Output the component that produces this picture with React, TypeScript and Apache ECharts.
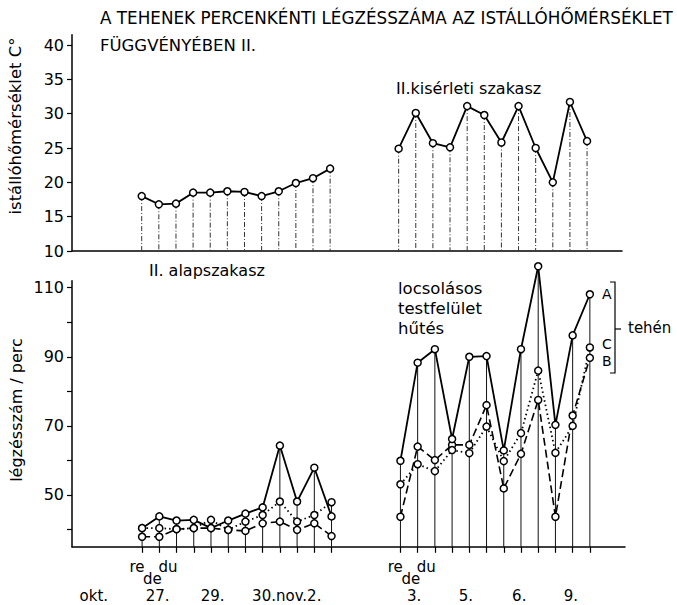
import React, { useEffect, useRef } from "react";
import * as echarts from "echarts";

// ---- data ----
const leftIdx = [0, 1, 2, 3, 4, 5, 6, 7, 8, 9, 10, 11];
const rightIdx = [15, 16, 17, 18, 19, 20, 21, 22, 23, 24, 25, 26];

const tempLeft = [18.0, 16.8, 16.9, 18.5, 18.5, 18.7, 18.6, 18.0, 18.7, 19.9, 20.6, 22.0];
const tempRight = [24.9, 30.1, 25.7, 25.1, 31.1, 29.8, 25.8, 31.1, 25.0, 20.0, 31.7, 26.0];

const cowALeft = [40.4, 43.8, 42.6, 42.8, 40.4, 42.6, 44.6, 46.4, 64.3, 48.1, 57.9, 43.8];
const cowCLeft = [40.4, 40.4, 40.1, 40.4, 42.8, 39.9, 42.3, 44.2, 48.1, 42.3, 44.2, 47.9];
const cowBLeft = [37.9, 37.9, 40.1, 40.4, 40.4, 39.9, 39.6, 41.8, 42.3, 39.9, 41.8, 38.1];

const cowARight = [59.9, 88.3, 92.2, 66.2, 90.0, 90.2, 62.9, 92.2, 116.2, 70.3, 96.2, 108.1];
const cowCRight = [53.1, 58.9, 56.9, 63.0, 62.1, 69.8, 59.8, 67.9, 86.0, 62.2, 70.0, 92.7];
const cowBRight = [43.7, 64.0, 60.1, 64.5, 64.5, 76.0, 51.9, 61.9, 77.5, 43.7, 73.0, 89.7];

const tempTicks = [10, 15, 20, 25, 30, 35, 40];
const breathTicks = [40, 50, 60, 70, 80, 90, 100, 110];
const breathLabels = [50, 70, 90, 110];

const dateLabels = ["okt.", "27.", "29.", "30.nov.2.", "3.", "5.", "6.", "9."];
const dateLabelAt = [-2.8, 0.9, 4.1, 8.4, 15.8, 18.8, 21.9, 24.9];
const dayParts = ["re", "de", "du"];
const dayPartGroups = [0, 15];

const FONT = "'DejaVu Sans', sans-serif";

function pts(idx: number[], vals: number[]) {
  return idx.map((x, i) => [x, vals[i]]);
}

export default function App() {
  const ref = useRef<HTMLDivElement>(null);

  useEffect(() => {
    if (!ref.current) return;
    const chart = echarts.init(ref.current, undefined, { renderer: "svg" });

    const sym = {
      symbol: "circle",
      symbolSize: 7,
      itemStyle: { color: "#fff", borderColor: "#000", borderWidth: 1.5 },
    };

    const lineSeries = (
      name: string,
      grid: number,
      data: any[],
      ltype: any,
      width: number,
      endLabel?: string,
      labelOffset: number[] = [0, 0]
    ) => {
      const d = data.map((p, i) =>
        endLabel && i === data.length - 1
          ? {
              value: p,
              label: {
                show: true,
                position: "right",
                distance: 8,
                offset: labelOffset,
                formatter: endLabel,
                fontFamily: FONT,
                fontSize: 14,
                color: "#000",
              },
            }
          : p
      );
      return {
        name,
        type: "line",
        xAxisIndex: grid,
        yAxisIndex: grid,
        data: d,
        ...sym,
        clip: false,
        z: 3,
        lineStyle: { color: "#000", width, type: ltype },
      };
    };

    const dropData = (grid: number) => {
      if (grid === 0) {
        return [...pts(leftIdx, tempLeft), ...pts(rightIdx, tempRight)];
      }
      const l = leftIdx.map((x, i) => [x, Math.max(cowALeft[i], cowBLeft[i], cowCLeft[i])]);
      const r = rightIdx.map((x, i) => [x, Math.max(cowARight[i], cowBRight[i], cowCRight[i])]);
      return [...l, ...r];
    };

    const dropSeries = (grid: number, yMin: number, dash: any) => ({
      type: "custom",
      xAxisIndex: grid,
      yAxisIndex: grid,
      clip: false,
      z: 1,
      silent: true,
      data: dropData(grid),
      renderItem: (params: any, api: any) => {
        const x = api.value(0);
        const y = api.value(1);
        const p = api.coord([x, y]);
        const b = api.coord([x, yMin]);
        return {
          type: "line",
          shape: { x1: p[0], y1: p[1], x2: b[0], y2: b[1] },
          style: { stroke: grid === 0 ? "#333" : "#111", lineWidth: 1, lineDash: dash },
        };
      },
    });

    const xMin = -4.07;
    const xMax = 28.04;

    const axisText = { color: "#000", fontFamily: FONT, fontSize: 16 };

    const option: any = {
      animation: false,
      backgroundColor: "#fff",
      grid: [
        { left: 72, right: 55, top: 34.7, height: 216.3 },
        { left: 72, right: 52, top: 280.8, height: 266 },
      ],
      xAxis: [
        {
          gridIndex: 0,
          type: "value",
          min: xMin,
          max: xMax,
          axisLine: { show: true, onZero: false, lineStyle: { color: "#000", width: 1.5 } },
          axisTick: { show: false },
          axisLabel: { show: false },
          splitLine: { show: false },
        },
        {
          gridIndex: 1,
          type: "value",
          min: xMin,
          max: xMax,
          axisLine: { show: true, onZero: false, lineStyle: { color: "#000", width: 1.5 } },
          axisTick: {
            show: true,
            customValues: [...leftIdx, ...rightIdx],
            length: 6,
            lineStyle: { color: "#000", width: 1.2 },
          },
          axisLabel: { show: false },
          splitLine: { show: false },
        },
      ],
      yAxis: [
        {
          gridIndex: 0,
          type: "value",
          min: 10,
          max: 41.5,
          axisLine: { show: true, onZero: false, lineStyle: { color: "#000", width: 1.5 } },
          axisTick: { show: true, customValues: tempTicks, length: 5, lineStyle: { color: "#000", width: 1.2 } },
          axisLabel: { customValues: tempTicks, margin: 8, ...axisText },
          splitLine: { show: false },
        },
        {
          gridIndex: 1,
          type: "value",
          min: 35,
          max: 112,
          axisLine: { show: true, onZero: false, lineStyle: { color: "#000", width: 1.5 } },
          axisTick: { show: true, customValues: breathTicks, length: 5, lineStyle: { color: "#000", width: 1.2 } },
          axisLabel: { customValues: breathLabels, margin: 8, ...axisText },
          splitLine: { show: false },
        },
      ],
      series: [
        dropSeries(0, 10, [5, 2, 1, 2]),
        dropSeries(1, 35, null),
        lineSeries("temp-l", 0, pts(leftIdx, tempLeft), "solid", 1.8),
        lineSeries("temp-r", 0, pts(rightIdx, tempRight), "solid", 1.8),
        lineSeries("B-l", 1, pts(leftIdx, cowBLeft), [8, 4], 1.6),
        lineSeries("B-r", 1, pts(rightIdx, cowBRight), [8, 4], 1.6, "B", [0, 3]),
        lineSeries("C-l", 1, pts(leftIdx, cowCLeft), [1.5, 3], 1.8),
        lineSeries("C-r", 1, pts(rightIdx, cowCRight), [1.5, 3], 1.8, "C", [0, -3]),
        lineSeries("A-l", 1, pts(leftIdx, cowALeft), "solid", 1.8),
        lineSeries("A-r", 1, pts(rightIdx, cowARight), "solid", 1.8, "A"),
      ],
    };

    chart.setOption(option);

    const txt = (text: string, x: number, y: number, size: number, extra: any = {}) => ({
      type: "text",
      x,
      y,
      ...(extra.rotation ? { rotation: extra.rotation } : {}),
      style: {
        text,
        fill: "#000",
        fontFamily: FONT,
        fontSize: size,
        align: extra.align || "left",
        verticalAlign: "middle",
        fontWeight: extra.weight || "normal",
      },
    });

    const px = (v: number) => chart.convertToPixel({ xAxisIndex: 1 } as any, v) as number;

    const graphics: any[] = [
      txt("A TEHENEK PERCENKÉNTI LÉGZÉSSZÁMA AZ ISTÁLLÓHŐMÉRSÉKLET", 100, 18, 16.8),
      txt("FÜGGVÉNYÉBEN II.", 100, 45, 16.5),
      txt("II.kisérleti szakasz", 396, 88, 16),
      txt("II. alapszakasz", 149, 270, 16),
      txt("locsolásos", 398, 288, 16.5),
      txt("testfelület", 398, 308, 16.5),
      txt("hűtés", 398, 328, 16.5),
      txt("istállóhőmérséklet C°", 15, 126, 16.5, { rotation: Math.PI / 2, align: "center" }),
      txt("légzésszám / perc", 16, 410, 16, { rotation: Math.PI / 2, align: "center" }),
      txt("tehén", 628, 328, 15),
      {
        type: "polyline",
        shape: { points: [[610, 282], [615, 282], [615, 373], [610, 373]] },
        style: { stroke: "#000", lineWidth: 1.2, fill: null },
      },
      {
        type: "line",
        shape: { x1: 615, y1: 329, x2: 621, y2: 329 },
        style: { stroke: "#000", lineWidth: 1.2 },
      },
    ];

    dateLabels.forEach((t, i) => {
      graphics.push(txt(t, px(dateLabelAt[i]), 596, 15, { align: "center" }));
    });
    const partOffset = [-0.3, 0.6, 1.5];
    const partY = [567, 579, 567];
    dayPartGroups.forEach((g) => {
      dayParts.forEach((p, j) => {
        graphics.push(txt(p, px(g + partOffset[j]), partY[j], 15, { align: "center" }));
      });
    });

    chart.setOption({ graphic: graphics });

    return () => chart.dispose();
  }, []);

  return (
    <div
      ref={ref}
      style={{ position: "fixed", left: 0, top: 0, width: 677, height: 605, background: "#fff" }}
    />
  );
}
